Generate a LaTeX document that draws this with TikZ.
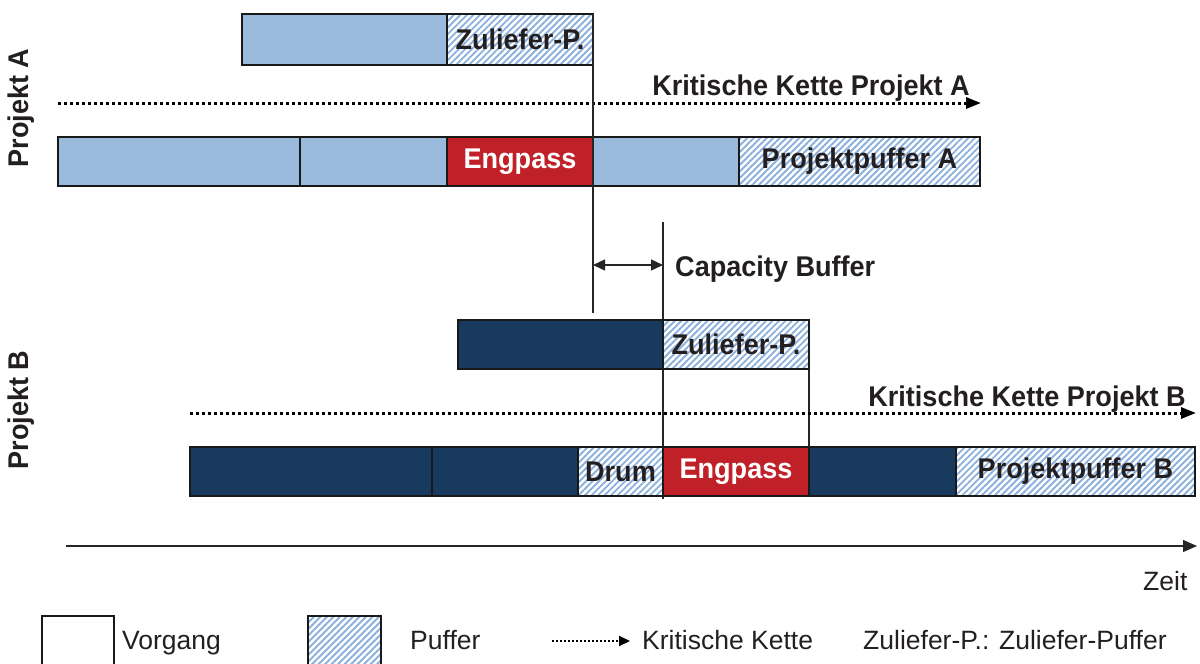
\documentclass[tikz,border=0pt]{standalone}
\usepackage{fontspec}
\setmainfont{Liberation Sans}[BoldFeatures={FakeStretch=0.95}]
\usetikzlibrary{arrows.meta,patterns.meta}
\definecolor{lb}{RGB}{155,187,221}
\definecolor{navy}{RGB}{23,58,94}
\definecolor{engred}{RGB}{192,32,40}
\definecolor{hatchc}{RGB}{140,176,220}
\definecolor{txt}{RGB}{35,31,32}
\begin{document}
\begin{tikzpicture}[x=1pt,y=-1pt,
  font=\fontsize{26.5}{30}\selectfont, text=txt,
  box/.style={draw=black!90, line width=1.4pt, inner sep=0pt, outer sep=0pt, anchor=north west, font=\fontsize{28.5}{32}\selectfont\bfseries},
  hatch/.style={pattern={Lines[angle=45,distance=4.6pt,line width=1.9pt]}, pattern color=hatchc},
  act/.style={box, fill=lb},
  actb/.style={box, fill=navy},
  eng/.style={box, fill=engred, text=white},
  crit/.style={line width=3pt, dash pattern=on 3pt off 3pt, -{Triangle[length=15pt,width=11pt]}},
  thin/.style={line width=1.3pt, draw=black!85},
  lbl/.style={font=\fontsize{28.5}{32}\selectfont\bfseries, inner sep=0pt},
  leg/.style={font=\fontsize{26.5}{30}\selectfont, inner sep=0pt, anchor=base west}
]
\useasboundingbox (0,0) rectangle (1200,664);

% ---------- Projekt A ----------
\node[act, minimum width=205pt, minimum height=51pt] (a1) at (242,14) {};
\node[box, hatch, minimum width=146pt, minimum height=51pt] (a2) at (447,14) {Zuliefer-P.};
\node[act, minimum width=242pt, minimum height=49pt] (a3) at (58,137) {};
\node[act, minimum width=147pt, minimum height=49pt] (a4) at (300,137) {};
\node[eng, minimum width=146pt, minimum height=49pt] (a5) at (447,137) {Engpass};
\node[act, minimum width=146pt, minimum height=49pt] (a6) at (593,137) {};
\node[box, hatch, minimum width=241pt, minimum height=49pt] (a7) at (739,137) {Projektpuffer A};

\coordinate (kaS) at (58,103);
\coordinate (kaE) at (981,103);
\draw[crit] (kaS) -- (kaE);
\node[lbl, anchor=base east] (kaL) at (970,95) {Kritische Kette Projekt A};

\node[lbl, rotate=90] (pA) at (21,108) {Projekt A};

% ---------- vertical lines & capacity buffer ----------
\coordinate (v1e) at (593,313);
\draw[thin] (a2.north east) -- (v1e);
\coordinate (v2s) at (663,222);
\coordinate (v2e) at (663,499);
\draw[thin] (v2s) -- (v2e);
\coordinate (cb1) at (593,265);
\coordinate (cb2) at (663,265);
\draw[thin, {Triangle[length=12pt,width=11pt]}-{Triangle[length=12pt,width=11pt]}] (cb1) -- (cb2);
\node[lbl, anchor=base west] (cbL) at (675,276) {Capacity Buffer};

% ---------- Projekt B ----------
\node[actb, minimum width=205pt, minimum height=49pt] (b1) at (458,320) {};
\node[box, hatch, minimum width=146pt, minimum height=49pt] (b2) at (663,320) {Zuliefer-P.};
\node[actb, minimum width=242pt, minimum height=49pt] (b3) at (190,447) {};
\node[actb, minimum width=146pt, minimum height=49pt] (b4) at (432,447) {};
\node[box, hatch, minimum width=85pt, minimum height=49pt] (b5) at (578,447) {Drum};
\node[eng, minimum width=146pt, minimum height=49pt] (b6) at (663,447) {Engpass};
\node[actb, minimum width=147pt, minimum height=49pt] (b7) at (809,447) {};
\node[box, hatch, minimum width=239pt, minimum height=49pt] (b8) at (956,447) {Projektpuffer B};
\draw[thin] (b2.south east) -- (b6.north east);

\coordinate (kbS) at (190,413);
\coordinate (kbE) at (1196,413);
\draw[crit] (kbS) -- (kbE);
\node[lbl, anchor=base east] (kbL) at (1186,406) {Kritische Kette Projekt B};

\node[lbl, rotate=90] (pB) at (21,410) {Projekt B};

% ---------- time axis ----------
\coordinate (t0) at (66,546);
\coordinate (t1) at (1197,546);
\draw[thin, -{Triangle[length=14pt,width=12pt]}] (t0) -- (t1);
\node[leg] (zeit) at (1143,590) {Zeit};

% ---------- legend ----------
\node[box, line width=1.3pt, minimum width=72pt, minimum height=60pt] (lv) at (42,616) {};
\node[leg] (lvT) at (122,649) {Vorgang};
\node[box, hatch, line width=1.3pt, minimum width=73pt, minimum height=60pt] (lp) at (308,616) {};
\node[leg] (lpT) at (410,649) {Puffer};
\coordinate (lk0) at (552,641);
\coordinate (lk1) at (630,641);
\draw[line width=2pt, dash pattern=on 2pt off 2pt, -{Triangle[length=11pt,width=10pt]}] (lk0) -- (lk1);
\node[leg] (lkT) at (642,649) {Kritische Kette};
\node[leg] (lzT) at (863,649) {Zuliefer-P.: Zuliefer-Puffer};
\end{tikzpicture}
\end{document}
